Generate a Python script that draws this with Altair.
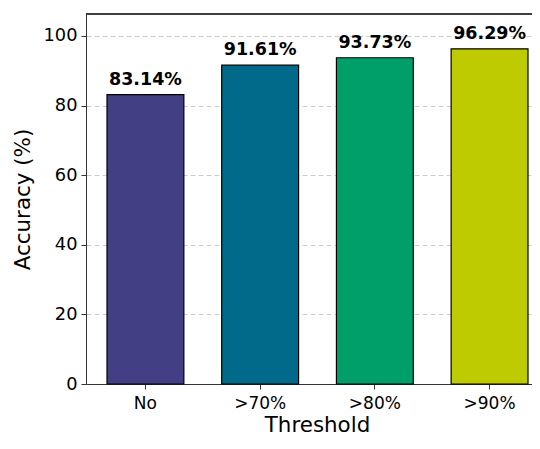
import altair as alt
import pandas as pd

categories = ["No", ">70%", ">80%", ">90%"]
accuracy = [83.14, 91.61, 93.73, 96.29]
labels = ["83.14%", "91.61%", "93.73%", "96.29%"]
colors = ["#423f85", "#016a8a", "#009f6a", "#bdcb00"]
y_ticks = [0, 20, 40, 60, 80, 100]

df = pd.DataFrame({"Threshold": categories, "Accuracy": accuracy, "label": labels})

FONT = "DejaVu Sans"
W, H = 446, 370

xenc = alt.X(
    "Threshold:N",
    sort=categories,
    scale=alt.Scale(paddingInner=0.33, paddingOuter=0.109, align=0.84),
    axis=alt.Axis(
        title="Threshold", labelAngle=0, labelFontSize=17, titleFontSize=21.4,
        labelFont=FONT, titleFont=FONT, titleFontWeight="normal",
        labelColor="black", titleColor="black", domainColor="#333333",
        tickColor="#333333", tickSize=5, labelPadding=6,
        titleBaseline="alphabetic", titleY=47, titleX=231,
    ),
)
yscale = alt.Scale(domain=[0, 106.3], nice=False, zero=True)

bars = alt.Chart(df).mark_bar(stroke="black", strokeWidth=1.2).encode(
    x=xenc,
    y=alt.Y(
        "Accuracy:Q", scale=yscale,
        axis=alt.Axis(
            title="Accuracy (%)", values=y_ticks, labelFontSize=17.8, titleFontSize=21.4,
            labelFont=FONT, titleFont=FONT, titleFontWeight="normal",
            labelColor="black", titleColor="black", domainColor="#333333",
            tickColor="#333333", tickSize=5, labelPadding=4, titlePadding=10,
            grid=True, gridDash=[5, 3], gridColor="#cccccc", gridWidth=1,
        ),
    ),
    color=alt.Color("Threshold:N", sort=categories,
                    scale=alt.Scale(domain=categories, range=colors), legend=None),
)

text = alt.Chart(df).mark_text(
    baseline="bottom", dy=-6, fontSize=17.5, fontWeight="bold", font=FONT, color="black"
).encode(
    x=alt.X("Threshold:N", sort=categories),
    y=alt.Y("Accuracy:Q", scale=yscale),
    text="label:N",
)

top_spine = alt.Chart(df).mark_rule(color="#333333", strokeWidth=1).encode(
    x=alt.value(0), x2=alt.value(W), y=alt.value(0)
)

chart = (bars + text + top_spine).properties(
    width=W, height=H,
    autosize=alt.AutoSizeParams(type="none"),
    padding={"left": 78, "top": 6, "right": 0, "bottom": 52},
).configure_view(stroke=None).configure_axis(gridOpacity=1)

chart.save("out.html", embed_options={"renderer": "svg", "actions": False})
